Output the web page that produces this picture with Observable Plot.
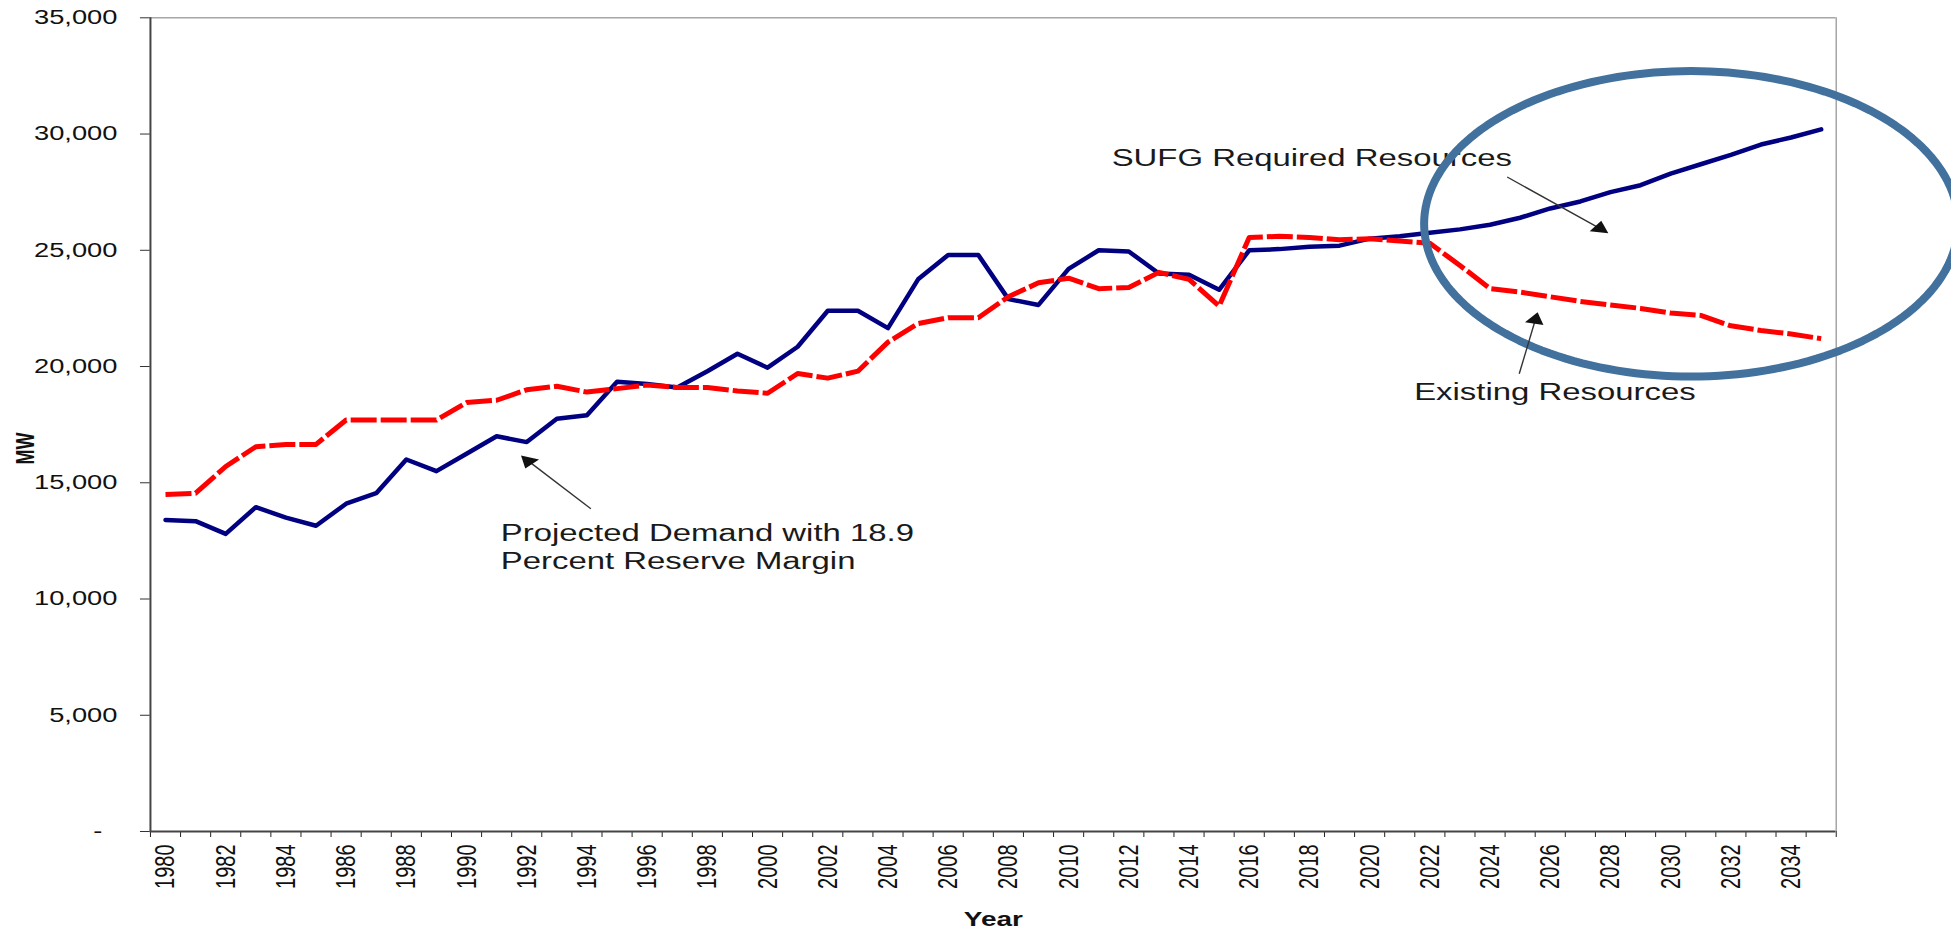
<!DOCTYPE html>
<html>
<head>
<meta charset="utf-8">
<script src="https://cdn.jsdelivr.net/npm/d3@7"></script>
<script src="https://cdn.jsdelivr.net/npm/@observablehq/plot@0.6"></script>
<style>
html, body { margin: 0; padding: 0; background: #fff; overflow: hidden; }
#chart svg { display: block; }
</style>
</head>
<body>
<div id="chart"></div>
<script>
// ---------- data ----------
const years = d3.range(1980, 2036);
const demandWithReserve = [
  13400, 13350, 12800, 13950, 13500, 13150, 14100, 14550, 16000, 15500,
  16250, 17000, 16750, 17750, 17900, 19350, 19250, 19100, 19800, 20550,
  19950, 20850, 22400, 22400, 21650, 23750, 24800, 24800, 22900, 22650,
  24200, 25000, 24950, 24000, 23950, 23300, 25000, 25050, 25150, 25200,
  25500, 25600, 25750, 25900, 26100, 26400, 26800, 27100, 27500, 27800,
  28300, 28700, 29100, 29550, 29850, 30200
];
const existingResources = [
  14500, 14550, 15700, 16550, 16650, 16650, 17700, 17700, 17700, 17700,
  18450, 18550, 19000, 19150, 18900, 19050, 19200, 19100, 19100, 18950,
  18850, 19700, 19500, 19800, 21050, 21850, 22100, 22100, 23000, 23600,
  23800, 23350, 23400, 24050, 23750, 22600, 25550, 25600, 25550, 25450,
  25500, 25400, 25300, 24350, 23350, 23200, 23000, 22800, 22650, 22500,
  22300, 22200, 21750, 21550, 21400, 21200
];
const yTicks = [0, 5000, 10000, 15000, 20000, 25000, 30000, 35000];
const xLabelYears = d3.range(1980, 2035, 2);
const xTickBounds = d3.range(1979.5, 2036, 1);

const annotations = [
  {text: "Projected Demand with 18.9\nPercent Reserve Margin", year: 1991.14, mw: 11299},
  {text: "SUFG Required Resources", year: 2011.43, mw: 28646},
  {text: "Existing Resources", year: 2021.48, mw: 18569}
];
const arrows = [
  {x1: 1994.13, y1: 13880, x2: 1991.81, y2: 16173},
  {x1: 2024.57, y1: 28152, x2: 2027.93, y2: 25735},
  {x1: 2024.97, y1: 19687, x2: 2025.58, y2: 22337}
];
const highlight = {year: 2030.68, mw: 26139, rYears: 8.87, rMW: 6568};

// ---------- layout ----------
const OUT_W = 1951, H = 930;
const W = 1394;               // drawn narrower, then stretched horizontally like the original
const mL = 107, mR = 82.5, mT = 17.3, mB = 99;
const pxPerYear = (W - mL - mR) / 56;
const pxPerMW = (H - mT - mB) / 35000;

const blueRows = years.map((y, i) => ({year: y, mw: demandWithReserve[i]}));
const redRows = years.map((y, i) => ({year: y, mw: existingResources[i]}));

// arrow heads
const HEAD_R = 5;
const headOffset = 2 * Math.sqrt((Math.PI * HEAD_R * HEAD_R) / (3 * Math.sqrt(3)));
const heads = arrows.map(a => {
  const dxp = (a.x2 - a.x1) * pxPerYear;
  const dyp = -(a.y2 - a.y1) * pxPerMW;
  const len = Math.hypot(dxp, dyp);
  const ux = dxp / len, uy = dyp / len;
  return {
    ...a,
    hx: a.x2 - headOffset * ux / pxPerYear,
    hy: a.y2 + headOffset * uy / pxPerMW,
    rot: Math.atan2(ux, -uy) * 180 / Math.PI
  };
});

// highlight ellipse outline (annotation shape)
const ellipse = d3.range(0, 360, 2).map(t => {
  const r = t * Math.PI / 180;
  return {x: highlight.year + highlight.rYears * Math.cos(r), y: highlight.mw + highlight.rMW * Math.sin(r)};
});

const font = "'Liberation Sans', Arial, Helvetica, sans-serif";

const plot = Plot.plot({
  width: W,
  height: H,
  marginLeft: mL,
  marginRight: mR,
  marginTop: mT,
  marginBottom: mB,
  style: {fontFamily: font, fontSize: "19.5px", color: "#111", background: "#fff"},
  x: {type: "linear", domain: [1979.5, 2035.5]},
  y: {type: "linear", domain: [0, 35000]},
  marks: [
    // frame
    Plot.ruleY([35000], {stroke: "#a6a6a6", strokeWidth: 1.5}),
    Plot.ruleX([2035.5], {stroke: "#a6a6a6", strokeWidth: 1.5}),
    // y axis
    Plot.axisY({
      ticks: yTicks, tickSize: 7, tickPadding: 16.6, label: null,
      tickFormat: d => d === 0 ? "-\u00a0\u00a0" : d3.format(",")(d),
      fontSize: 19.5, stroke: "#333", fill: "#111"
    }),
    // x axis tick marks at category boundaries
    Plot.axisX({ticks: xTickBounds, tickSize: 6, fill: "none", label: null, stroke: "#222"}),
    // x axis year labels
    Plot.axisX({
      ticks: xLabelYears, tickSize: 0, tickRotate: -90, tickPadding: 13, label: null,
      tickFormat: d => String(d), fontSize: 20, fill: "#111"
    }),
    Plot.ruleX([1979.5], {stroke: "#444", strokeWidth: 2}),
    Plot.ruleY([0], {stroke: "#444", strokeWidth: 2}),
    // axis titles
    Plot.text([{t: "MW", mw: 16474}], {
      y: "mw", text: "t", frameAnchor: "left", dx: -89, rotate: -90,
      fontWeight: "bold", fontSize: 18, fill: "#111", textAnchor: "middle", lineAnchor: "middle"
    }),
    Plot.text([{t: "Year"}], {
      text: "t", frameAnchor: "bottom", dy: 94, lineAnchor: "bottom",
      fontWeight: "bold", fontSize: 20, fill: "#111"
    }),
    // series
    Plot.line(blueRows, {x: "year", y: "mw", stroke: "#000080", strokeWidth: 4.5}),
    Plot.line(redRows, {
      x: "year", y: "mw", stroke: "#ff0000", strokeWidth: 5,
      strokeDasharray: "26,4", strokeLinecap: "butt"
    }),
    // annotations
    Plot.text(annotations, {
      x: "year", y: "mw", text: "text", textAnchor: "start", lineAnchor: "bottom",
      lineHeight: 1.2, fontSize: 23.5, fill: "#1a1a1a"
    }),
    Plot.line(ellipse, {x: "x", y: "y", stroke: "#41719c", strokeWidth: 8, curve: "linear-closed"}),
    Plot.link(heads, {x1: "x1", y1: "y1", x2: "hx", y2: "hy", stroke: "#333", strokeWidth: 1.4}),
    Plot.dot(heads, {x: "hx", y: "hy", rotate: "rot", symbol: "triangle", r: HEAD_R, fill: "#111", stroke: "none"})
  ]
});

// stretch horizontally, keep stroke widths uniform
plot.setAttribute("viewBox", `0 0 ${W} ${H}`);
plot.setAttribute("width", OUT_W);
plot.setAttribute("height", H);
plot.setAttribute("preserveAspectRatio", "none");
plot.style.width = OUT_W + "px";
plot.style.height = H + "px";
plot.style.maxWidth = "none";
plot.querySelectorAll("path, line, rect").forEach(el => el.setAttribute("vector-effect", "non-scaling-stroke"));

document.getElementById("chart").appendChild(plot);
</script>
</body>
</html>
